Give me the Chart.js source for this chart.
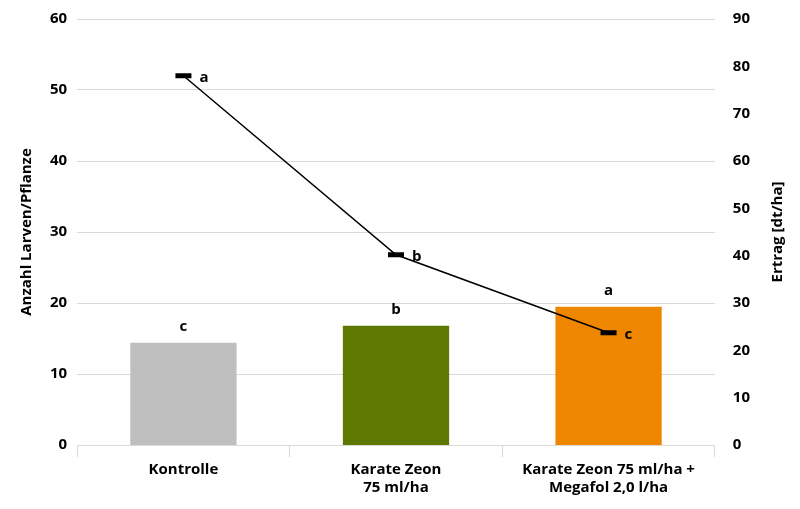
<!DOCTYPE html>
<html>
<head>
<meta charset="utf-8">
<script src="https://cdn.jsdelivr.net/npm/chart.js@4/dist/chart.umd.min.js"></script>
<style>
  body { margin: 0; background: #fff; }
  #wrap { width: 800px; height: 509px; }
</style>
</head>
<body>
<div id="wrap"><canvas id="chart"></canvas></div>
<script>
var categories = [["Kontrolle"], ["Karate Zeon", "75 ml/ha"], ["Karate Zeon 75 ml/ha +", "Megafol 2,0 l/ha"]];
var ertrag = [21.6, 25.2, 29.2];
var ertragLetters = ["c", "b", "a"];
var larven = [52, 26.8, 15.8];
var larvenLetters = ["a", "b", "c"];
var barColors = ["#bfbfbf", "#5f7800", "#ee8600"];

// letters above bars and right of line points, plus right axis title
var letterPlugin = {
    id: "letters",
    afterDatasetsDraw: function(chart) {
        var ctx = chart.ctx;
        ctx.save();
        ctx.font = "bold 15px 'Open Sans', sans-serif";
        ctx.fillStyle = "#000";
        ctx.textBaseline = "middle";
        chart.getDatasetMeta(1).data.forEach(function(el, i) {
            ctx.textAlign = "center";
            ctx.fillText(ertragLetters[i], el.x, el.y - 16);
        });
        chart.getDatasetMeta(0).data.forEach(function(el, i) {
            ctx.textAlign = "left";
            ctx.fillText(larvenLetters[i], el.x + 16, el.y + 2);
        });
        var a = chart.chartArea;
        ctx.translate(778, (a.top + a.bottom) / 2);
        ctx.rotate(-Math.PI / 2);
        ctx.textAlign = "center";
        ctx.fillText("Ertrag [dt/ha]", 0, 0);
        ctx.restore();
    }
};

Chart.defaults.font.family = "'Open Sans', sans-serif";
Chart.defaults.color = "#000";

new Chart(document.getElementById("chart"), {
    type: "bar",
    data: {
        labels: categories,
        datasets: [
            {
                type: "line",
                data: larven,
                yAxisID: "y",
                borderColor: "#000",
                borderWidth: 1.5,
                pointStyle: "line",
                pointRadius: 8,
                pointBorderWidth: 5,
                pointBorderColor: "#000",
                order: 0
            },
            {
                type: "bar",
                data: ertrag,
                yAxisID: "y1",
                backgroundColor: barColors,
                categoryPercentage: 0.5,
                barPercentage: 1,
                order: 1
            }
        ]
    },
    options: {
        responsive: true,
        maintainAspectRatio: false,
        animation: false,
        layout: { padding: { top: 12, right: 40, left: 14, bottom: 8 } },
        plugins: { legend: { display: false }, tooltip: { enabled: false } },
        scales: {
            x: {
                grid: { display: true, drawOnChartArea: false, offset: true, color: "#d9d9d9", tickLength: 12 },
                border: { color: "#d9d9d9" },
                ticks: { font: { size: 15, weight: "bold" }, padding: 4 }
            },
            y: {
                position: "left",
                min: 0, max: 60,
                ticks: { stepSize: 10, padding: 10, font: { size: 15, weight: "bold" } },
                grid: { color: "#d9d9d9", drawTicks: false },
                border: { display: false },
                title: { display: true, text: "Anzahl Larven/Pflanze", font: { size: 15, weight: "bold" } }
            },
            y1: {
                position: "right",
                min: 0, max: 90,
                ticks: { stepSize: 10, padding: 10, font: { size: 15, weight: "bold" } },
                grid: { display: false },
                border: { display: false }
            }
        }
    },
    plugins: [letterPlugin]
});
</script>
</body>
</html>
